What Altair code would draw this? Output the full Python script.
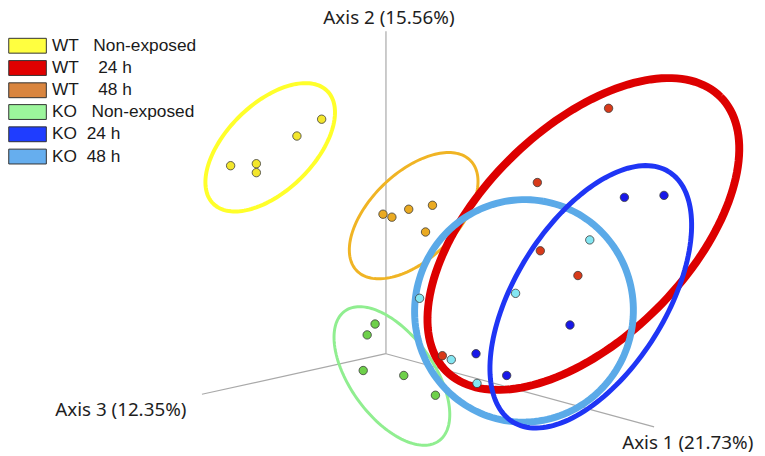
import math
import altair as alt
import pandas as pd

# ---------------- data (projected PCoA coordinates, origin = axes origin) ----------------
groups = ["WT Non-exposed", "WT 24 h", "WT 48 h", "KO Non-exposed", "KO 24 h", "KO 48 h"]

wt0_x = [-157, -131, -131, -90, -65]
wt0_y = [190, 192, 183, 220, 237]
wt24_x = [225, 153, 156, 194, 57]
wt24_y = [248, 173, 104, 79, -2]
wt48_x = [-3, 6, 23, 47, 40]
wt48_y = [141, 138, 146, 150, 123]
ko0_x = [-11, -19, -23, 18, 50]
ko0_y = [30, 19, -17, -22, -42]
ko24_x = [241, 281, 186, 91, 122]
ko24_y = [158, 160, 29, 0, -22]
ko48_x = [206, 131, 34, 66, 92]
ko48_y = [115, 61, 56, -6, -30]

# confidence ellipses (centre, semi-axes, rotation in degrees)
ell_cx = [-117, 199.5, 28, 6, 207, 139.5]
ell_cy = [208.6, 121, 139.5, -22.5, 57.5, 43.3]
ell_a = [81, 196, 80, 81, 149, 112.5]
ell_b = [44, 106, 43.6, 42, 76, 110.5]
ell_angle = [44.5, 45, 44, -54, 58, 80]

# 3-D axes (projected end points) and titles
axis_names = ["Axis 1 (21.73%)", "Axis 2 (15.56%)", "Axis 3 (12.35%)"]
axis_end_x = [271, 0, -186]
axis_end_y = [-74, 326, -41]
axis_label_x = [305, 3, -268]
axis_label_y = [-90, 339, -57]

legend_wt = ["WT\u00a0\u00a0\u00a0Non-exposed", "WT\u00a0\u00a0\u00a0\u00a024 h", "WT\u00a0\u00a0\u00a0\u00a048 h"]
legend_ko = ["\u00a0KO\u00a0\u00a0\u00a0Non-exposed", "\u00a0KO\u00a0\u00a024 h", "\u00a0KO\u00a0\u00a048 h"]

# ---------------- styles ----------------
ell_colors = ["#FFFF2A", "#DD0000", "#F0B424", "#90EE90", "#1F35F5", "#5BAAE8"]
ell_widths = [4, 8, 3, 3, 5, 7]
pt_colors = ["#F3E62C", "#D83A1A", "#EAAA22", "#6ED04A", "#1818E8", "#84E6F2"]
legend_colors_wt = ["#FFFF40", "#E00000", "#D9853F"]
legend_colors_ko = ["#9CF59C", "#1F3DFF", "#66AEEE"]

# ---------------- tables ----------------
series_x = [wt0_x, wt24_x, wt48_x, ko0_x, ko24_x, ko48_x]
series_y = [wt0_y, wt24_y, wt48_y, ko0_y, ko24_y, ko48_y]
pts = []
for g, xs, ys in zip(groups, series_x, series_y):
    for x, y in zip(xs, ys):
        pts.append({"group": g, "x": x, "y": y})
points_df = pd.DataFrame(pts)

draw_order = ["WT Non-exposed", "WT 48 h", "KO Non-exposed", "WT 24 h", "KO 48 h", "KO 24 h"]
N = 160
rows = []
for g in draw_order:
    i = groups.index(g)
    th = math.radians(ell_angle[i])
    for k in range(N + 1):
        t = 2 * math.pi * k / N
        ex = ell_cx[i] + ell_a[i] * math.cos(t) * math.cos(th) - ell_b[i] * math.sin(t) * math.sin(th)
        ey = ell_cy[i] + ell_a[i] * math.cos(t) * math.sin(th) + ell_b[i] * math.sin(t) * math.cos(th)
        rows.append({"group": g, "k": k, "x": ex, "y": ey, "sw": ell_widths[i]})
ell_df = pd.DataFrame(rows)

axes_df = pd.DataFrame({"name": axis_names, "x0": [0, 0, 0], "y0": [0, 0, 0],
                        "x1": axis_end_x, "y1": axis_end_y,
                        "lx": axis_label_x, "ly": axis_label_y})

legend_df = pd.DataFrame({"label": legend_wt + legend_ko})

W, H = 757, 448
xs = alt.Scale(domain=[-382, 375], nice=False, zero=False)
ys = alt.Scale(domain=[-101, 347], nice=False, zero=False)

axis_rules = alt.Chart(axes_df).mark_rule(color="#a9a9a9", strokeWidth=1.2).encode(
    x=alt.X("x0:Q", scale=xs, axis=None),
    y=alt.Y("y0:Q", scale=ys, axis=None),
    x2="x1:Q", y2="y1:Q",
)

axis_text = alt.Chart(axes_df).mark_text(
    font="Noto Sans", fontSize=19, color="#1e1e1e", align="center", baseline="middle"
).encode(
    x=alt.X("lx:Q", scale=xs, axis=None),
    y=alt.Y("ly:Q", scale=ys, axis=None),
    text="name:N",
)

ellipses = alt.Chart(ell_df).mark_line(interpolate="linear").encode(
    x=alt.X("x:Q", scale=xs, axis=None),
    y=alt.Y("y:Q", scale=ys, axis=None),
    color=alt.Color("group:N", scale=alt.Scale(domain=groups, range=ell_colors), legend=None),
    strokeWidth=alt.StrokeWidth("sw:Q", scale=None),
    detail="group:N",
    order="k:Q",
)

points = alt.Chart(points_df).mark_circle(size=72, opacity=1, stroke="#3a3a3a", strokeWidth=0.8).encode(
    x=alt.X("x:Q", scale=xs, axis=None),
    y=alt.Y("y:Q", scale=ys, axis=None),
    fill=alt.Fill("group:N", scale=alt.Scale(domain=groups, range=pt_colors), legend=None),
)

sym_path = "M-2.5333,-1H2.5333V1H-2.5333Z"


def legend_layer(labels, colors, ly):
    return alt.Chart(legend_df).transform_filter("false").mark_square(filled=True).encode(
        fill=alt.Fill(
            "label:N",
            scale=alt.Scale(domain=labels, range=colors),
            legend=alt.Legend(
                title=None, orient="none", legendX=11, legendY=ly, direction="vertical",
                symbolType=sym_path, symbolSize=225, symbolStrokeColor="#333333",
                symbolStrokeWidth=1, symbolOpacity=1, labelOffset=16,
                labelFont="Liberation Sans", labelFontSize=17.5, labelColor="#1a1a1a",
                labelLimit=400, rowPadding=2.5, padding=0, offset=0,
            ),
        )
    )


chart = alt.layer(
    axis_rules,
    ellipses,
    points,
    axis_text,
    legend_layer(legend_wt, legend_colors_wt, 27),
    legend_layer(legend_ko, legend_colors_ko, 94),
).resolve_scale(fill="independent").properties(
    width=W, height=H, padding=0, autosize="none", background="white"
).configure_view(stroke=None)

chart.save("out.html", embed_options={"renderer": "svg", "actions": False})
